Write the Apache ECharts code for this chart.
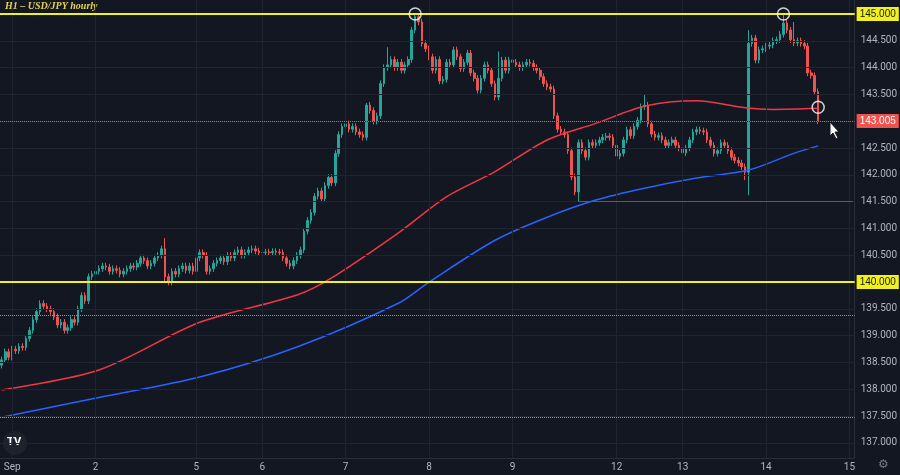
<!DOCTYPE html>
<html><head><meta charset="utf-8">
<script src="https://cdn.jsdelivr.net/npm/echarts@6/dist/echarts.min.js"></script>
<style>html,body{margin:0;padding:0;background:#131722}#c{width:900px;height:475px}</style>
</head><body><div id="c"></div>
<script>
const closes = [
138.55,138.7,138.6,138.75,
138.72,138.8,138.78,138.95,139.1,
139.3,139.45,139.6,139.55,
139.5,139.45,139.35,139.2,139.25,139.1,139.15,
139.3,139.25,139.5,139.75,
139.65,140.1,140.15,140.2,
140.25,140.3,140.28,140.2,140.25,140.22,140.15,
140.2,140.25,140.3,140.28,140.35,
140.45,140.4,140.3,140.35,140.45,140.5,140.62,
140.1,
140.0,140.2,140.15,140.25,140.3,
140.22,140.3,140.2,140.45,140.55,
140.5,140.2,140.25,
140.35,140.4,140.45,140.38,140.5,140.45,
140.55,140.6,140.5,140.55,140.6,140.62,
140.58,140.55,140.55,140.56,140.55,140.57,140.56,140.55,
140.45,140.35,140.3,
140.4,140.5,140.6,
140.95,141.15,141.3,141.6,
141.7,141.55,141.8,141.95,141.85,
142.4,142.75,142.9,142.95,
142.85,142.9,142.8,142.75,142.7,
143.3,
143.2,143.0,143.1,
143.7,144.0,144.05,
144.15,144.0,144.1,143.95,144.05,
144.15,144.7,
144.95,144.85,
144.45,144.35,
144.2,143.95,144.15,143.75,
143.78,144.1,144.05,
144.33,144.2,143.98,144.1,
144.27,143.9,143.8,143.58,143.8,
144.05,143.95,143.7,143.45,
143.8,144.14,143.95,144.14,
144.1,144.05,144.0,144.05,144.1,
144.08,144.0,143.95,143.83,143.7,
143.64,143.6,143.1,
142.85,142.8,142.75,142.45,
141.96,141.68,142.6,
142.45,142.33,142.6,142.55,
142.6,142.65,142.7,142.72,142.7,
142.55,142.35,142.4,142.65,
142.84,142.73,142.9,143.02,
143.27,143.3,142.95,
142.76,142.7,142.73,142.65,
142.55,142.6,142.65,142.55,142.5,
142.41,142.5,142.65,142.8,
142.84,142.82,142.8,142.65,
142.55,142.4,142.45,142.6,
142.55,142.45,142.33,142.27,
142.22,142.15,142.05,
144.45,
144.55,144.14,144.33,
144.35,144.4,144.42,144.5,
144.52,144.62,144.83,
144.7,144.52,144.46,
144.5,144.45,144.4,
143.9,143.85,143.55,143.005
];
const firstOpen = 138.45;
const highSpikes = {47:140.82,105:143.34,111:144.38,119:145.0,185:143.49,215:144.7,225:145.0,228:144.85,143:144.3};
const lowSpikes = {166:141.5,214:141.9,215:141.62,47:140.0};
const redMA = [[0,137.99],[28,138.36],[57,139.25],[85,139.76],[94,140.04],[114,140.91],[128,141.59],[142,142.06],[157,142.65],[171,142.96],[185,143.28],[200,143.38],[214,143.25],[222,143.22],[235,143.24]];
const blueMA = [[0,137.48],[28,137.85],[57,138.23],[85,138.79],[114,139.6],[123,140.0],[142,140.78],[157,141.21],[171,141.53],[185,141.75],[200,141.94],[215,142.09],[228,142.4],[235,142.54]];
const tickIdx = [3,27,56,75,99,123,147,177,196,220,244];
const tickText = ['Sep','2','5','6','7','8','9','12','13','14','15'];
const priceLabels = [137,137.5,138,138.5,139,139.5,140,140.5,141,141.5,142,142.5,143,143.5,144,144.5,145];
const nCat = 246;

const cats = [];
for (let i=0;i<nCat;i++){const k=tickIdx.indexOf(i);cats.push(k>=0?tickText[k]:'');}
const ohlc = closes.map((c,i)=>{
  const o = i===0?firstOpen:closes[i-1];
  const hi = highSpikes[i]!==undefined?highSpikes[i]:Math.max(o,c)+0.06;
  const lo = lowSpikes[i]!==undefined?lowSpikes[i]:Math.min(o,c)-0.06;
  return [o,c,lo,hi];
});
function lineData(pts){const a=new Array(nCat).fill(null);pts.forEach(p=>a[p[0]]=p[1]);return a;}
const gridLines = priceLabels.map(v=>({yAxis:v,lineStyle:{color:'#1f2430',type:'solid',width:1},label:{show:false}}));
const vLines = tickIdx.map(i=>({xAxis:i,lineStyle:{color:'#1f2430',type:'solid',width:1},label:{show:false}}));

const chart = echarts.init(document.getElementById('c'));
chart.setOption({
  backgroundColor:'#131722',
  animation:false,
  grid:{left:0,right:40,top:0,bottom:17},
  xAxis:{type:'category',data:cats,boundaryGap:true,
    axisLine:{lineStyle:{color:'#2a2e39'}},axisTick:{show:false},
    axisLabel:{interval:(i,v)=>v!=='',color:'#b2b5be',fontSize:10,fontFamily:'Roboto',margin:4},
    splitLine:{show:false}},
  yAxis:{type:'value',position:'right',min:136.72,max:145.26,scale:true,
    axisLine:{show:true,lineStyle:{color:'#2a2e39'}},axisTick:{show:false},splitLine:{show:false},
    axisLabel:{customValues:priceLabels,formatter:v=>v.toFixed(3),color:'#b2b5be',fontSize:10,fontFamily:'Roboto',margin:6}},
  graphic:[
    {type:'text',left:5,top:1,style:{text:'H1 – USD/JPY hourly',fill:'#e3d44f',font:'italic bold 10px "Liberation Serif"'}},
    {type:'circle',shape:{cx:15,cy:443,r:12},style:{fill:'#1e222d'}},
    {type:'text',x:7,y:437,style:{text:'TV',fill:'#ffffff',font:'bold 11px Roboto'}},
    {type:'polygon',shape:{points:[[830,122],[830,136],[833,133],[836,139],[838,138],[835,132],[839,132]]},style:{fill:'#ffffff',stroke:'#131722'}},
    {type:'text',x:878,y:459,style:{text:'⚙',fill:'#787b86',font:'12px "DejaVu Sans"'}}
  ],
  series:[
    {type:'candlestick',data:ohlc,barWidth:'60%',
      itemStyle:{color:'#26a69a',color0:'#ef5350',borderColor:'#26a69a',borderColor0:'#ef5350',borderWidth:1},
      markLine:{silent:true,symbol:'none',precision:3,data:[
        ...gridLines,...vLines,
        {yAxis:139.38,lineStyle:{color:'#9598a1',type:'dotted',width:1},label:{show:false}},
        {yAxis:137.48,lineStyle:{color:'#9598a1',type:'dotted',width:1},label:{show:false}},
        [{coord:[166,141.5],lineStyle:{color:'#9598a1',type:'dotted',width:1},label:{show:false}},{coord:[245,141.5]}],
        {yAxis:143.005,lineStyle:{color:'#ef5350',type:'dotted',width:1},label:{show:true,position:'end',formatter:'143.005',color:'#fff',backgroundColor:'#ef5350',padding:[2,3],fontSize:10,distance:2}},
        {yAxis:145,lineStyle:{color:'#f2f21a',type:'solid',width:2},label:{show:true,position:'end',formatter:'145.000',color:'#131722',backgroundColor:'#f2f21a',padding:[2,3],fontSize:10,distance:2}},
        {yAxis:140,lineStyle:{color:'#f2f21a',type:'solid',width:2},label:{show:true,position:'end',formatter:'140.000',color:'#131722',backgroundColor:'#f2f21a',padding:[2,3],fontSize:10,distance:2}}
      ]}},
    {type:'line',data:lineData(redMA),connectNulls:true,smooth:0.3,showSymbol:false,lineStyle:{color:'#f23645',width:1.5},z:3},
    {type:'line',data:lineData(blueMA),connectNulls:true,smooth:0.3,showSymbol:false,lineStyle:{color:'#2962ff',width:1.5},z:3},
    {type:'scatter',data:[[119,145.0],[225,145.0],[235,143.26]],symbol:'circle',symbolSize:12,
      itemStyle:{color:'rgba(0,0,0,0)',borderColor:'#ffffff',borderWidth:1.5},z:5}
  ]
});
</script></body></html>
